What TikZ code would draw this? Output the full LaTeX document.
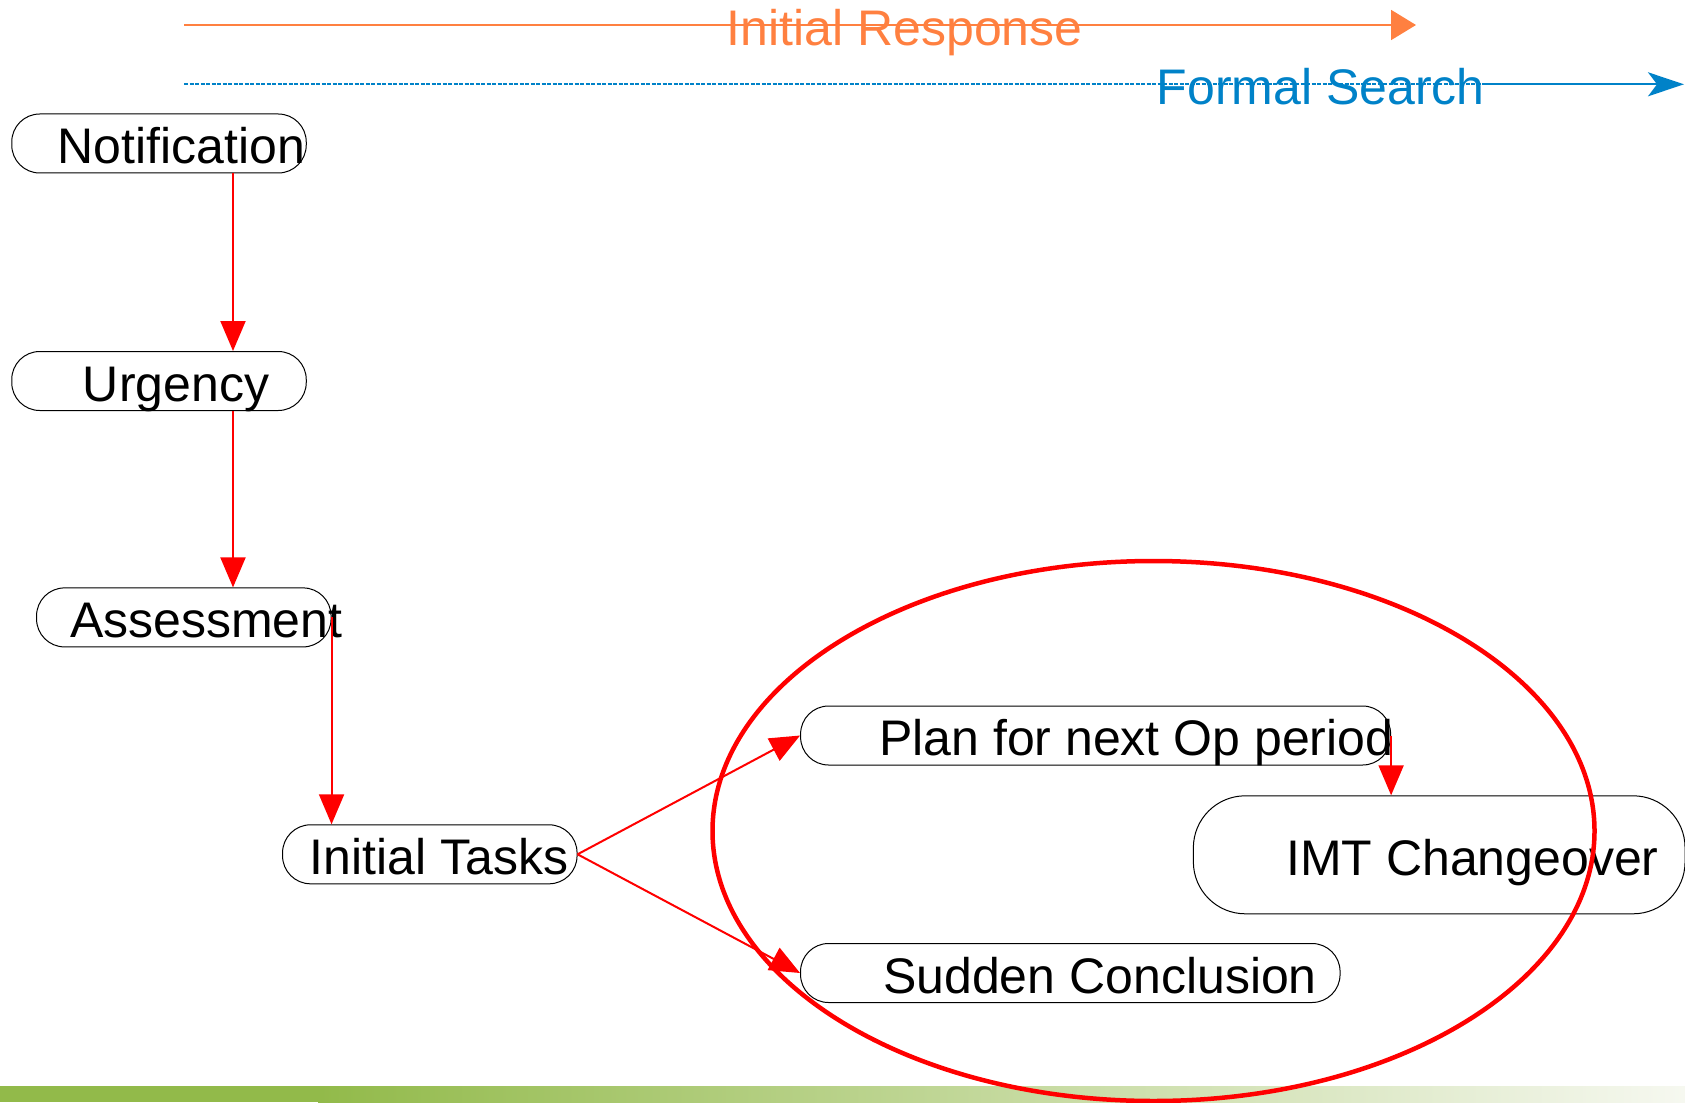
\documentclass[tikz,border=0pt]{standalone}
\usepackage{fontspec}
\setmainfont{Liberation Sans}
\usetikzlibrary{arrows.meta,calc}
\definecolor{respcolor}{RGB}{255,128,64}
\definecolor{searchcolor}{RGB}{0,130,200}
\definecolor{barleft}{RGB}{146,186,74}
\definecolor{barright}{RGB}{246,248,240}
\tikzset{
  state/.style={
    rectangle,
    rounded corners=28pt,
    draw=black, line width=1pt,
    fill=white,
    inner sep=0pt,
    minimum height=59pt
  },
  lbl/.style={inner sep=0pt, anchor=base west, font=\fontsize{50}{60}\selectfont},
  flow/.style={-{Triangle[length=30pt,width=25pt]}, draw=red, line width=2pt},
  ring/.style={draw=red, line width=4.5pt},
}
\begin{document}
\begin{tikzpicture}[x=1pt,y=-1pt]
\useasboundingbox (0,0) rectangle (1685,1102);

% green band at the bottom
\shade[left color=barleft, right color=barright] (318,1086) rectangle (1685,1102);
\fill[barleft] (0,1086) rectangle (324,1102);

% time lines
\coordinate (IRSTART) at (184,25);
\coordinate (IREND) at (1416,25);
\draw[respcolor, line width=2pt, -{Triangle[length=25pt,width=30pt]}] (IRSTART) -- (IREND);
\node[lbl, text=respcolor] (IRLABEL) at (726.7,45.7) {Initial Response};

\coordinate (FSSTART) at (184,84.3);
\coordinate (FSBREAK) at (1483,84.3);
\coordinate (FSEND) at (1684,84.3);
\draw[searchcolor, line width=2pt, dash pattern=on 4pt off 1.5pt] (FSSTART) -- (FSBREAK);
\draw[searchcolor, line width=2pt, -{Stealth[length=36pt,width=24pt,inset=9pt]}] (FSBREAK) -- (FSEND);
\node[lbl, text=searchcolor] (FSLABEL) at (1156.7,104.3) {Formal Search};

% boxes
\node[state, minimum width=294.5pt] (NOTIF) at (159,143.5) {};
\node[state, minimum width=294.5pt] (URG) at (159,381) {};
\node[state, minimum width=294.5pt] (ASSESS) at (183.8,617.4) {};
\node[state, minimum width=294.5pt] (TASKS) at (429.8,854.3) {};
\node[state, minimum width=590pt] (PLAN) at (1095.6,735.5) {};
\node[state, minimum width=491.7pt, minimum height=118pt, rounded corners=52pt] (IMT) at (1439.2,854.8) {};
\node[state, minimum width=539.5pt] (SUDDEN) at (1070.3,973) {};

\node[lbl] (NOTIFTXT) at (57.3,163.3) {Notification};
\node[lbl] (URGTXT) at (82.7,401) {Urgency};
\node[lbl] (ASSESSTXT) at (69.8,637.5) {Assessment};
\node[lbl] (TASKSTXT) at (309.5,874.5) {Initial Tasks};
\node[lbl] (PLANTXT) at (879,755.5) {Plan for next Op period};
\node[lbl] (IMTTXT) at (1286,875.7) {IMT Changeover};
\node[lbl] (SUDDENTXT) at (883,993) {Sudden Conclusion};

% connectors
\draw[flow] ([xshift=74pt]NOTIF.south) -- ([xshift=74pt]URG.north);
\draw[flow] ([xshift=74pt]URG.south) -- ([xshift=49.2pt]ASSESS.north);
\draw[flow] (ASSESS.east) -- (ASSESS.east |- TASKS.north);
\draw[flow] (TASKS.east) -- (PLAN.west);
\draw[flow] (TASKS.east) -- (SUDDEN.west);
\draw[flow] (PLAN.east) -- (PLAN.east |- IMT.north);

\draw[ring] (1153.5,831) ellipse [x radius=441pt, y radius=270pt];
\end{tikzpicture}
\end{document}
